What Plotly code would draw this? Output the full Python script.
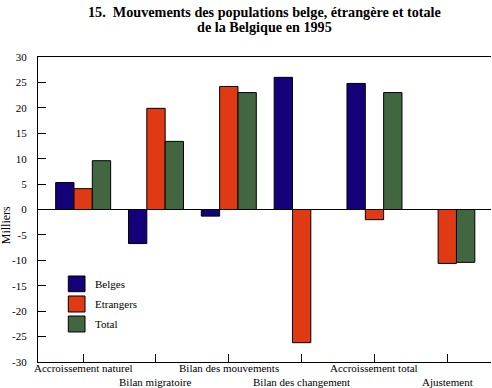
import plotly.graph_objects as go

categories = ["Accroissement naturel", "Bilan migratoire", "Bilan des mouvements",
              "Bilan des changement", "Accroissement total", "Ajustement"]
belges = [5.3, -6.7, -1.3, 26.0, 24.8, None]
etrangers = [4.1, 19.9, 24.2, -26.2, -2.0, -10.6]
total = [9.6, 13.4, 23.0, None, 23.0, -10.4]
series_names = ["Belges", "Etrangers", "Total"]
y_ticks = [-30, -25, -20, -15, -10, -5, 0, 5, 10, 15, 20, 25, 30]
title_lines = ["15.  Mouvements des populations belge, étrangère et totale",
               "de la Belgique en 1995"]
y_title = "Milliers"

colors = ["#140078", "#E03A14", "#426640"]
FONT = "Liberation Serif, Times New Roman, serif"

fig = go.Figure()
for name, vals, col in zip(series_names, [belges, etrangers, total], colors):
    fig.add_trace(go.Bar(
        x=categories, y=vals, name=name, showlegend=False,
        marker=dict(color=col, line=dict(color="black", width=1)),
    ))

annotations = []
shapes = []
# alternating two-row category labels
for i, c in enumerate(categories):
    annotations.append(dict(
        x=c, xref="x", y=0, yref="paper", yanchor="middle",
        yshift=-5.5 if i % 2 == 0 else -19.5,
        text=c, showarrow=False,
        font=dict(family=FONT, size=11, color="black"),
    ))
# y axis title
annotations.append(dict(
    x=0, xref="paper", xanchor="center", xshift=-32, y=-3.1, yref="y",
    text=y_title, textangle=-90, showarrow=False,
    font=dict(family=FONT, size=12, color="black"),
))
# title lines
for line, ys in zip(title_lines, [45.5, 30]):
    annotations.append(dict(
        x=0.5, xref="paper", y=1, yref="paper", yanchor="middle", yshift=ys,
        text="<b>" + line + "</b>", showarrow=False,
        font=dict(family=FONT, size=14.2, color="black"),
    ))
# legend (drawn in paper coordinates)
leg_rows = [(0.2305, 0.2820), (0.1639, 0.2164), (0.0984, 0.1508)]
for name, col, (y0, y1) in zip(series_names, colors, leg_rows):
    shapes.append(dict(type="rect", xref="paper", yref="paper",
                       x0=0.0669, x1=0.1038, y0=y0, y1=y1,
                       fillcolor=col, line=dict(color="black", width=1)))
    annotations.append(dict(
        x=0.1221, xref="paper", y=(y0 + y1) / 2, yref="paper",
        xanchor="left", yanchor="middle", text=name, showarrow=False,
        font=dict(family=FONT, size=11, color="black"),
    ))

fig.update_layout(
    width=492, height=388,
    margin=dict(l=38, r=1, t=57, b=26),
    paper_bgcolor="white", plot_bgcolor="white",
    barmode="group", bargap=0.245, bargroupgap=0,
    font=dict(family=FONT, size=11, color="black"),
    showlegend=False,
    annotations=annotations,
    shapes=shapes,
)
fig.update_xaxes(
    type="category", range=[-0.62, 5.6],
    showline=True, linecolor="black", linewidth=1.2, mirror=True,
    ticks="inside", ticklen=8, tickcolor="black", tickwidth=1,
    showticklabels=False, showgrid=False, zeroline=False,
)
fig.update_yaxes(
    range=[-30, 30], tickvals=y_ticks, ticktext=[str(v) for v in y_ticks],
    showline=True, linecolor="black", linewidth=1.2, mirror=False,
    ticks="inside", ticklen=8, tickcolor="black", tickwidth=1,
    ticklabelstandoff=8,
    showgrid=False, zeroline=True, zerolinecolor="black", zerolinewidth=1.2,
    tickfont=dict(family=FONT, size=11, color="black"),
)

fig.write_html("out.html", config={"displayModeBar": False},
               post_script="document.body.style.margin='0';")
